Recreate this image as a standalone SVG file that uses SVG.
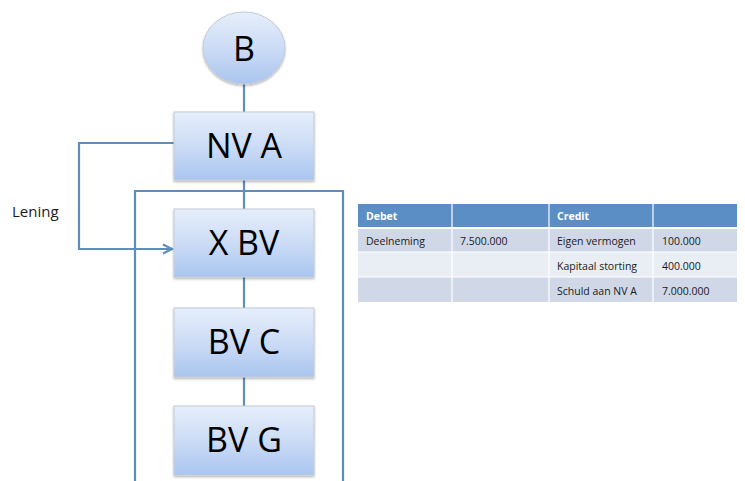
<svg xmlns="http://www.w3.org/2000/svg" width="745" height="481" viewBox="0 0 745 481">
  <defs>
    <linearGradient id="boxFill" x1="0" y1="0" x2="0" y2="1">
      <stop offset="0" stop-color="#e6eefb"/>
      <stop offset="0.5" stop-color="#ccdcf6"/>
      <stop offset="1" stop-color="#a9c5ef"/>
    </linearGradient>
    <filter id="shadow" x="-10%" y="-10%" width="125%" height="130%">
      <feDropShadow dx="0" dy="1.5" stdDeviation="1.2" flood-color="#000" flood-opacity="0.3"/>
    </filter>
    <marker id="arrow" markerWidth="12" markerHeight="12" refX="10" refY="6" orient="auto" markerUnits="userSpaceOnUse">
      <path d="M1,1.5 L10,6 L1,10.5" fill="none" stroke="#5f8ebb" stroke-width="2.2"/>
    </marker>
  </defs>
  <style>
    .node { fill: url(#boxFill); stroke: #c4cbd6; stroke-width: 1; filter: url(#shadow); }
    .label { font-family: "Open Sans", "Liberation Sans", sans-serif; font-size: 34px; fill: #000; text-anchor: middle; }
    .line { stroke: #5f8ebb; stroke-width: 2.2; fill: none; }
    .cell { font-family: "Open Sans", "Liberation Sans", sans-serif; font-size: 10.5px; fill: #1a1a1a; }
    .head { font-family: "Open Sans", "Liberation Sans", sans-serif; font-size: 10.5px; font-weight: bold; fill: #fff; }
  </style>

  <rect width="745" height="481" fill="#fff"/>

  <!-- connectors -->
  <g id="connectors">
    <line class="line" x1="244" y1="83" x2="244" y2="112"/>
    <line class="line" x1="244" y1="180" x2="244" y2="209"/>
    <line class="line" x1="244" y1="277" x2="244" y2="308"/>
    <line class="line" x1="244" y1="377" x2="244" y2="406"/>
    <polyline class="line" points="174,143 79,143 79,249 172,249" marker-end="url(#arrow)"/>
    <!-- group frame -->
    <polyline class="line" points="135,483 135,191 343,191 343,483" stroke="#8fb0d3"/>
  </g>

  <text x="12" y="217" font-family="Open Sans, Liberation Sans, sans-serif" font-size="15" fill="#1a1a1a">Lening</text>

  <g id="B">
    <ellipse class="node" cx="244" cy="48" rx="41" ry="36"/>
    <text class="label" x="244" y="61">B</text>
  </g>
  <g id="NVA">
    <rect class="node" x="174" y="112" width="140" height="68"/>
    <text class="label" x="244" y="158">NV A</text>
  </g>
  <g id="XBV">
    <rect class="node" x="174" y="209" width="140" height="68"/>
    <text class="label" x="244" y="255">X BV</text>
  </g>
  <g id="BVC">
    <rect class="node" x="174" y="308" width="140" height="69"/>
    <text class="label" x="244" y="354">BV C</text>
  </g>
  <g id="BVG">
    <rect class="node" x="174" y="406" width="140" height="69"/>
    <text class="label" x="244" y="452">BV G</text>
  </g>

  <!-- balance table -->
  <g id="table">
    <rect x="358" y="204" width="379" height="24" fill="#5b8ec4"/>
    <rect x="358" y="228" width="379" height="24" fill="#d0d8e8"/>
    <rect x="358" y="252" width="379" height="25" fill="#e9edf4"/>
    <rect x="358" y="277" width="379" height="25" fill="#d0d8e8"/>
    <g stroke="#fff" stroke-width="1.2">
      <line x1="358" y1="228" x2="737" y2="228" stroke-width="2"/>
      <line x1="358" y1="252" x2="737" y2="252"/>
      <line x1="358" y1="277" x2="737" y2="277"/>
      <line x1="452" y1="204" x2="452" y2="302"/>
      <line x1="549" y1="204" x2="549" y2="302"/>
      <line x1="653" y1="204" x2="653" y2="302"/>
    </g>
    <text class="head" x="366" y="220">Debet</text>
    <text class="head" x="557" y="220">Credit</text>
    <text class="cell" x="366" y="245">Deelneming</text>
    <text class="cell" x="460" y="245">7.500.000</text>
    <text class="cell" x="557" y="245">Eigen vermogen</text>
    <text class="cell" x="662" y="245">100.000</text>
    <text class="cell" x="557" y="270">Kapitaal storting</text>
    <text class="cell" x="662" y="270">400.000</text>
    <text class="cell" x="557" y="295">Schuld aan NV A</text>
    <text class="cell" x="662" y="295">7.000.000</text>
  </g>
</svg>
